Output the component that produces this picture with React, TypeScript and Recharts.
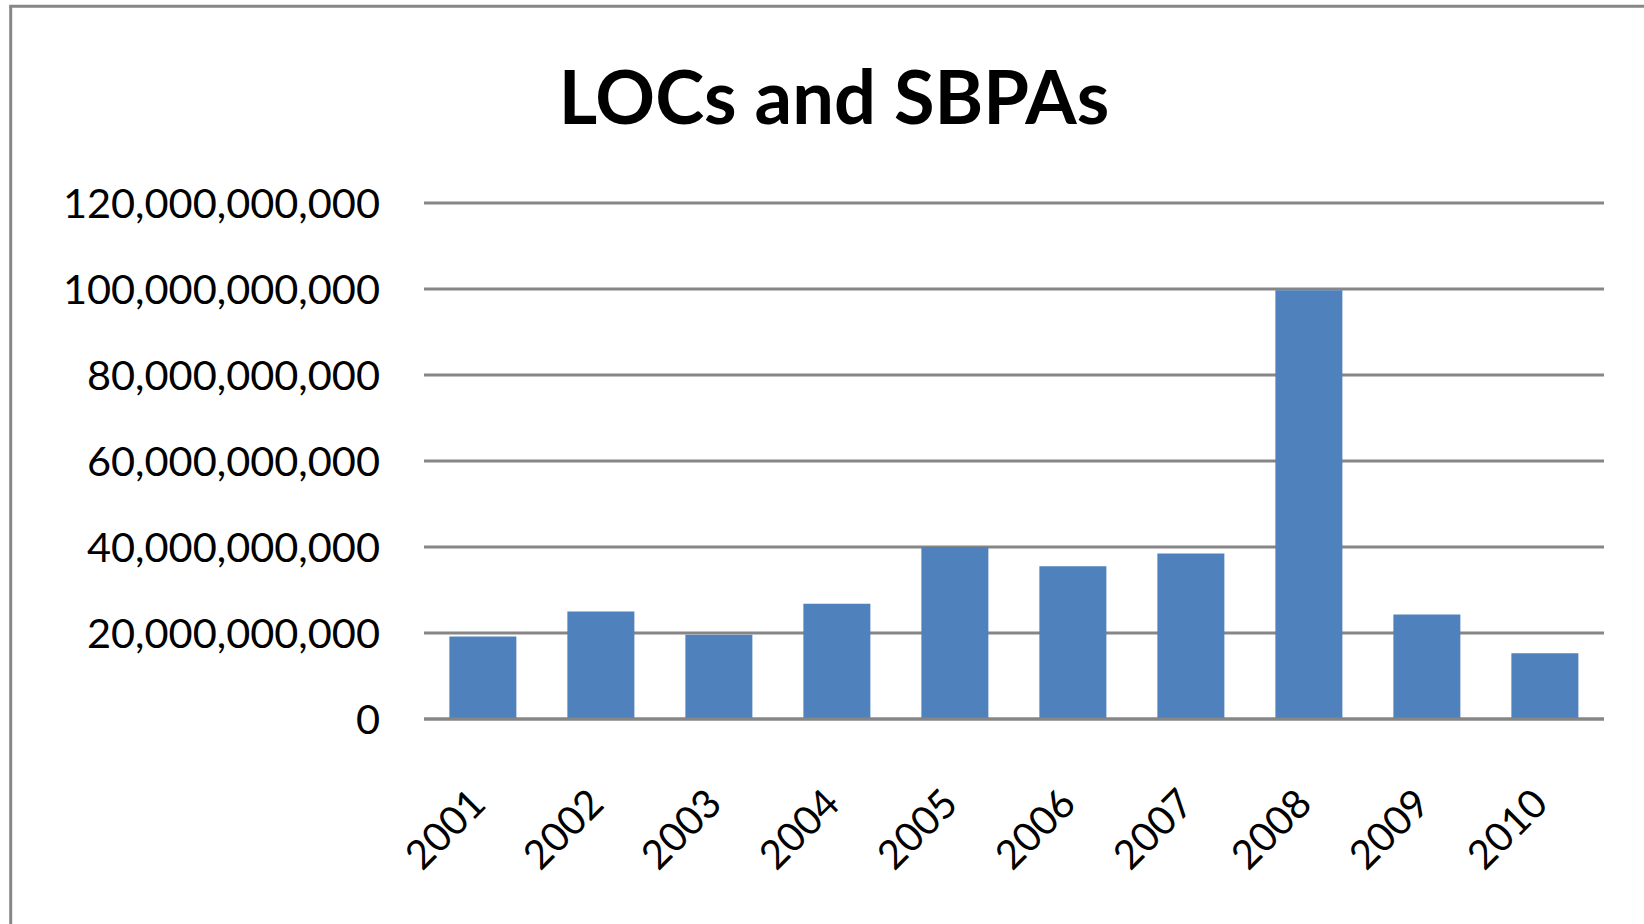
import { BarChart, Bar, CartesianGrid, XAxis, YAxis } from "recharts";

const years = ["2001", "2002", "2003", "2004", "2005", "2006", "2007", "2008", "2009", "2010"];
const amounts = [19.2e9, 25.0e9, 19.6e9, 26.8e9, 40.0e9, 35.5e9, 38.5e9, 99.7e9, 24.3e9, 15.3e9];
const yTicks = [0, 20e9, 40e9, 60e9, 80e9, 100e9, 120e9];

const data = years.map((year, i) => ({ year, amount: amounts[i] }));

const FONT = "Lato, 'Open Sans', sans-serif";

function YearTick({ x, y, payload }: any) {
  const ax = x + 5;
  const ay = y;
  return (
    <text
      x={ax}
      y={ay}
      transform={`rotate(-45, ${ax}, ${ay})`}
      textAnchor="end"
      fill="#000"
      fontSize={40}
      fontFamily={FONT}
    >
      {payload.value}
    </text>
  );
}

export default function App() {
  return (
    <div style={{ position: "absolute", left: 0, top: 0, width: 1644, height: 924, background: "#fff", overflow: "hidden" }}>
      <BarChart
        width={1644}
        height={924}
        data={data}
        margin={{ top: 203, right: 40, left: 0, bottom: 0 }}
        barCategoryGap="21.5%"
      >
        <CartesianGrid vertical={false} stroke="#868686" strokeWidth={3} />
        <XAxis
          dataKey="year"
          height={205}
          tickLine={false}
          axisLine={{ stroke: "#868686", strokeWidth: 3 }}
          tickMargin={81}
          tick={<YearTick />}
          interval={0}
        />
        <YAxis
          width={424}
          domain={[0, 120e9]}
          ticks={yTicks}
          tickLine={false}
          axisLine={false}
          tickMargin={38}
          tickFormatter={(v: number) => v.toLocaleString("en-US")}
          tick={{ fill: "#000", fontSize: 41.5, fontFamily: FONT }}
        />
        <Bar dataKey="amount" fill="#4F81BD" isAnimationActive={false} />
      </BarChart>
      <svg width={1644} height={924} style={{ position: "absolute", left: 0, top: 0, pointerEvents: "none" }}>
        <line x1={10.7} y1={6.2} x2={10.7} y2={924} stroke="#878787" strokeWidth={3} />
        <line x1={9.2} y1={6.2} x2={1644} y2={6.2} stroke="#878787" strokeWidth={3} />
        <text x={834} y={124} textAnchor="middle" fontSize={74} fontWeight="bold" fontFamily={FONT} fill="#000">
          LOCs and SBPAs
        </text>
      </svg>
    </div>
  );
}
